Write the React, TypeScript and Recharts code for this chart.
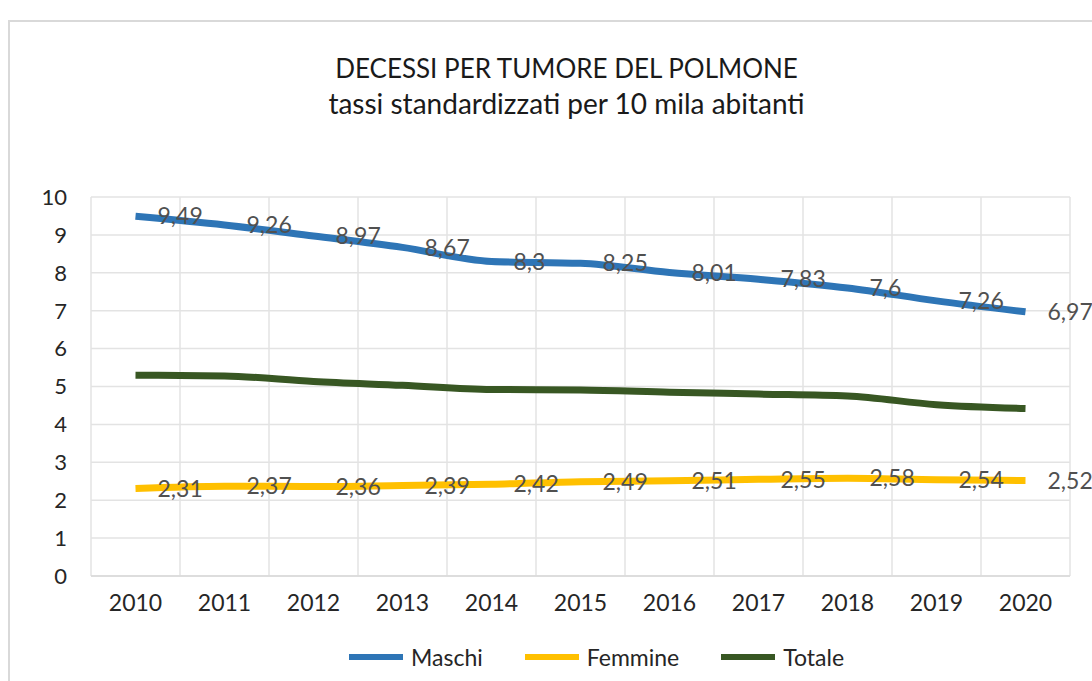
import { LineChart, Line, XAxis, YAxis, CartesianGrid, Legend, LabelList } from 'recharts';

const years = ['2010', '2011', '2012', '2013', '2014', '2015', '2016', '2017', '2018', '2019', '2020'];
const maschi = [9.49, 9.26, 8.97, 8.67, 8.3, 8.25, 8.01, 7.83, 7.6, 7.26, 6.97];
const femmine = [2.31, 2.37, 2.36, 2.39, 2.42, 2.49, 2.51, 2.55, 2.58, 2.54, 2.52];
// totale has no labels in the original
const totale = [5.3, 5.28, 5.13, 5.03, 4.92, 4.91, 4.85, 4.8, 4.75, 4.52, 4.42];
const yTicks = [0, 1, 2, 3, 4, 5, 6, 7, 8, 9, 10];

const series = [
  { key: 'maschi', name: 'Maschi', color: '#2E75B6' },
  { key: 'femmine', name: 'Femmine', color: '#FFC000' },
  { key: 'totale', name: 'Totale', color: '#385723' },
];

const data = years.map((y, i) => ({
  year: y,
  maschi: maschi[i],
  femmine: femmine[i],
  totale: totale[i],
}));

const FONT = 'Lato, "Open Sans", sans-serif';
const fmtIt = (v: any) => String(v).replace('.', ',');

const renderLegend = () => (
  <div
    style={{
      height: 50,
      display: 'flex',
      alignItems: 'center',
      paddingLeft: 339,
      fontFamily: FONT,
      fontSize: 23,
      color: '#262626',
    }}
  >
    {series.map((s, i) => (
      <div key={s.key} style={{ display: 'flex', alignItems: 'center', marginRight: i < 2 ? 42 : 0 }}>
        <span style={{ display: 'inline-block', width: 54, height: 6, background: s.color, marginRight: 8 }} />
        <span>{s.name}</span>
      </div>
    ))}
  </div>
);

export default function App() {
  return (
    <div
      style={{
        position: 'absolute',
        top: 20,
        left: 8,
        width: 1084,
        height: 661,
        borderLeft: '2px solid #d9d9d9',
        borderTop: '2px solid #d9d9d9',
        boxSizing: 'border-box',
        overflow: 'hidden',
        background: '#fff',
      }}
    >
      <style>{'html, body { overflow: hidden; }'}</style>
      <div
        style={{
          position: 'absolute',
          top: 29,
          left: 0,
          width: 1113,
          textAlign: 'center',
          fontFamily: FONT,
          lineHeight: '35px',
          color: '#1a1a1a',
        }}
      >
        <div style={{ fontSize: 26 }}>DECESSI PER TUMORE DEL POLMONE</div>
        <div style={{ fontSize: 28 }}>tassi standardizzati per 10 mila abitanti</div>
      </div>
      <LineChart
        width={1090}
        height={660}
        data={data}
        margin={{ top: 175, right: 30, left: 0, bottom: 0 }}
        style={{ fontFamily: FONT }}
      >
        <CartesianGrid
          stroke="#e3e3e3"
          strokeWidth={1.5}
          verticalCoordinatesGenerator={({ offset }: any) =>
            Array.from({ length: years.length + 1 }, (_, i) => offset.left + (i * offset.width) / years.length)
          }
        />
        <XAxis
          dataKey="year"
          padding={{ left: 44.5, right: 44.5 }}
          axisLine={{ stroke: '#d9d9d9', strokeWidth: 1.5 }}
          tickLine={false}
          tickSize={0}
          tickMargin={19}
          height={56}
          tick={{ fill: '#262626', fontSize: 23 }}
        />
        <YAxis
          domain={[0, 10]}
          ticks={yTicks}
          width={81}
          axisLine={false}
          tickLine={false}
          tickSize={0}
          tickMargin={24}
          tick={{ fill: '#262626', fontSize: 22 }}
        />
        <Legend verticalAlign="bottom" content={renderLegend} />
        <Line
          dataKey="maschi"
          name="Maschi"
          type="monotone"
          stroke="#2E75B6"
          strokeWidth={7}
          dot={false}
          isAnimationActive={false}
        >
          <LabelList
            dataKey="maschi"
            position="right"
            offset={22}
            formatter={fmtIt}
            style={{ fill: '#505050', fontSize: 23 }}
          />
        </Line>
        <Line
          dataKey="femmine"
          name="Femmine"
          type="monotone"
          stroke="#FFC000"
          strokeWidth={7}
          dot={false}
          isAnimationActive={false}
        >
          <LabelList
            dataKey="femmine"
            position="right"
            offset={22}
            formatter={fmtIt}
            style={{ fill: '#505050', fontSize: 23 }}
          />
        </Line>
        <Line
          dataKey="totale"
          name="Totale"
          type="monotone"
          stroke="#385723"
          strokeWidth={7}
          dot={false}
          isAnimationActive={false}
        />
      </LineChart>
    </div>
  );
}
